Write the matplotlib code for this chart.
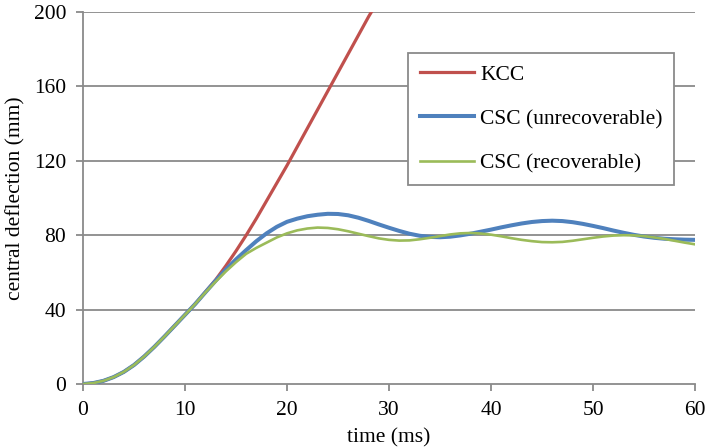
import numpy as np
import matplotlib
matplotlib.use("Agg")
import matplotlib.pyplot as plt

# central deflection (mm), time in ms
t_kcc = [0, 1, 2, 3, 4, 5, 6, 7, 8, 9, 10, 11, 12, 13, 14, 15, 16, 17, 18, 19,
         20, 21, 22, 23, 24, 25, 26, 27, 28, 28.6]
d_kcc = [0, 0.5, 1.7, 3.7, 6.5, 10.2, 14.8, 20, 25.6, 31.4, 37.2, 43, 49.5, 56, 63.5, 71.5, 80, 89, 98.5, 108,
         117.5, 127.5, 137.5, 147.5, 157.5, 167.5, 177.5, 187.5, 197.5, 203]

t_csc = list(range(0, 61))
d_unrec = [0, 0.5, 1.7, 3.7, 6.5, 10.2, 14.8, 20, 25.6, 31.4, 37.2, 43, 49.3, 55.5, 61.5, 67, 72, 76.8, 81, 84.5,
           87.2, 88.9, 90.2, 91, 91.5, 91.4, 90.7, 89.4, 87.7, 85.8,
           84, 82.3, 80.8, 79.7, 79.1, 78.9, 79.2, 79.9, 80.8, 81.9,
           83, 84.2, 85.3, 86.3, 87.1, 87.6, 87.8, 87.6, 87, 86.1,
           85, 83.8, 82.5, 81.3, 80.2, 79.3, 78.6, 78.1, 77.8, 77.6, 77.5]
d_rec = [0, 0.5, 1.7, 3.7, 6.5, 10.2, 14.8, 20, 25.6, 31.4, 37.2, 43, 49.2, 55, 60.5, 65.5, 70, 73.2, 76, 78.8,
         81, 82.6, 83.6, 84.1, 83.9, 83.2, 82.1, 80.8, 79.5, 78.3,
         77.5, 77.1, 77.2, 77.8, 78.6, 79.5, 80.4, 81, 81.2, 80.9,
         80.3, 79.4, 78.4, 77.5, 76.8, 76.3, 76.2, 76.4, 77, 77.8,
         78.6, 79.3, 79.8, 80, 79.9, 79.5, 78.8, 78, 77, 76, 75.1]

xticks = [0, 10, 20, 30, 40, 50, 60]
yticks = [0, 40, 80, 120, 160, 200]

plt.rcParams['font.family'] = ['Liberation Serif', 'DejaVu Serif']
fs = 15.5

fig = plt.figure(figsize=(7.05, 4.48), dpi=100)
ax = fig.add_axes([83/705, 1 - 384/448, 612/705, 372/448])

grey = '#8a8a8a'
for y in yticks[1:]:
    ax.axhline(y, color=grey, lw=1.3, zorder=1)

ax.plot(t_kcc, d_kcc, color='#C0504D', lw=2.3, label='KCC', zorder=3)
ax.plot(t_csc, d_unrec, color='#4F81BD', lw=2.9, label='CSC (unrecoverable)', zorder=3)
ax.plot(t_csc, d_rec, color='#9BBB59', lw=1.9, label='CSC (recoverable)', zorder=4)

ax.set_xlim(0, 60)
ax.set_ylim(0, 200)
ax.set_xticks(xticks)
ax.set_yticks(yticks)
ax.tick_params(direction='out', length=5, width=1.3, color=grey, pad=7, labelsize=fs)
for s in ['top', 'right']:
    ax.spines[s].set_visible(False)
for s in ['left', 'bottom']:
    ax.spines[s].set_color(grey)
    ax.spines[s].set_linewidth(1.3)

ax.set_xlabel('time (ms)', fontsize=fs, labelpad=6)
ax.set_ylabel('central deflection (mm)', fontsize=fs, labelpad=6)

leg = ax.legend(loc='upper left', bbox_to_anchor=(0.531, 0.890), fancybox=False,
                edgecolor=grey, framealpha=1, fontsize=fs, handlelength=2.5,
                handletextpad=0.3, labelspacing=1.12, borderpad=0.55, borderaxespad=0)
leg.get_frame().set_linewidth(1.3)

plt.savefig('out.png', dpi=100)
